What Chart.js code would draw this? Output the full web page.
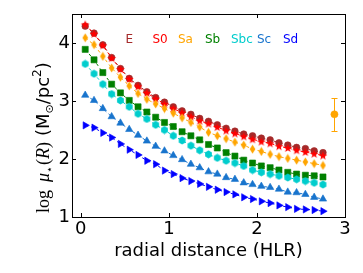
<!DOCTYPE html>
<html><head><meta charset="utf-8">
<script src="https://cdn.jsdelivr.net/npm/chart.js@4"></script>
<style>html,body{margin:0;padding:0;background:#fff;overflow:hidden}</style>
</head><body>
<canvas id="c" width="363" height="273" style="width:363px;height:273px;display:block"></canvas>
<script>
// ---- data ----
const radius = [0.05,0.15,0.25,0.35,0.45,0.55,0.65,0.75,0.85,0.95,1.05,1.15,1.25,1.35,1.45,1.55,1.65,1.75,1.85,1.95,2.05,2.15,2.25,2.35,2.45,2.55,2.65,2.75];
const valE   = [4.29,4.17,3.97,3.75,3.56,3.39,3.27,3.16,3.06,2.98,2.90,2.83,2.77,2.70,2.65,2.59,2.53,2.48,2.43,2.40,2.36,2.33,2.28,2.24,2.20,2.18,2.14,2.11];
const valS0  = [4.32,4.16,3.96,3.74,3.55,3.38,3.25,3.14,3.04,2.95,2.87,2.80,2.73,2.66,2.61,2.55,2.49,2.44,2.39,2.34,2.30,2.27,2.22,2.19,2.15,2.12,2.09,2.06];
const valSa  = [4.09,3.97,3.77,3.57,3.41,3.26,3.13,3.03,2.95,2.87,2.79,2.71,2.63,2.55,2.46,2.40,2.35,2.29,2.24,2.17,2.13,2.08,2.04,2.01,1.98,1.95,1.92,1.89];
const valSb  = [3.89,3.71,3.49,3.29,3.14,3.01,2.90,2.81,2.72,2.63,2.56,2.47,2.40,2.33,2.25,2.19,2.11,2.05,1.98,1.93,1.88,1.85,1.81,1.77,1.74,1.72,1.71,1.69];
const valSbc = [3.64,3.47,3.29,3.12,3.01,2.90,2.78,2.69,2.59,2.50,2.40,2.32,2.23,2.15,2.08,2.02,1.97,1.93,1.88,1.81,1.77,1.74,1.71,1.68,1.65,1.62,1.59,1.56];
const valSc  = [3.10,3.01,2.87,2.73,2.62,2.51,2.41,2.31,2.22,2.14,2.06,1.99,1.91,1.85,1.78,1.74,1.68,1.65,1.59,1.56,1.53,1.51,1.48,1.43,1.42,1.39,1.34,1.31];
const valSd  = [2.58,2.54,2.45,2.37,2.26,2.16,2.07,1.97,1.91,1.80,1.74,1.67,1.62,1.57,1.52,1.47,1.43,1.39,1.34,1.31,1.27,1.24,1.20,1.17,1.14,1.13,1.12,1.10];
const errX = [2.88];
const errY = [2.77];
const errLow = [2.48];
const errHigh = [3.05];
const xTickVals = [0,1,2,3];
const yTickVals = [1,2,3,4];
const labels = ['E','S0','Sa','Sb','Sbc','Sc','Sd'];

// ---- marker images ----
function mk(w,h,draw){const c=document.createElement('canvas');c.width=w;c.height=h;const g=c.getContext('2d');draw(g,w,h);return c;}
const starImg = mk(10,10,(g)=>{g.fillStyle='#ff0000';g.beginPath();for(let i=0;i<10;i++){const a=-Math.PI/2+i*Math.PI/5;const r=i%2?1.9:4.6;g.lineTo(5+r*Math.cos(a),5.3+r*Math.sin(a));}g.closePath();g.fill();});
const diamImg = mk(7,10,(g)=>{g.fillStyle='#ffa500';g.beginPath();g.moveTo(3.5,0.5);g.lineTo(6.3,5);g.lineTo(3.5,9.5);g.lineTo(0.7,5);g.closePath();g.fill();});
const hexImg = mk(9,9,(g)=>{g.fillStyle='#00cdcd';g.beginPath();for(let i=0;i<6;i++){const a=-Math.PI/2+i*Math.PI/3;g.lineTo(4.5+3.9*Math.cos(a),4.5+3.9*Math.sin(a));}g.closePath();g.fill();});

const series = [
  {label:'E',   vals:valE,   color:'#a52a2a', style:'circle',   r:3.3, rot:0},
  {label:'S0',  vals:valS0,  color:'#ff0000', style:starImg,    r:4,   rot:0},
  {label:'Sa',  vals:valSa,  color:'#ffa500', style:diamImg,    r:4,   rot:0},
  {label:'Sb',  vals:valSb,  color:'#008000', style:'rect',     r:4.3, rot:0},
  {label:'Sbc', vals:valSbc, color:'#00cdcd', style:hexImg,     r:4,   rot:0},
  {label:'Sc',  vals:valSc,  color:'#1874cd', style:'triangle', r:4.2, rot:0},
  {label:'Sd',  vals:valSd,  color:'#0000ff', style:'triangle', r:4.2, rot:90}
];

const datasets = series.map((s,k)=>({
  label:s.label,
  data: radius.map((x,i)=>({x:x,y:s.vals[i]})),
  showLine:true,
  borderColor:s.color,
  borderWidth:1,
  borderDash:[3,3],
  backgroundColor:s.color,
  pointBackgroundColor:s.color,
  pointBorderColor:s.color,
  pointBorderWidth:0.6,
  pointStyle:s.style,
  pointRadius:s.r,
  pointRotation:s.rot,
  order: 7-k
}));
datasets.push({
  label:'err',
  data: errX.map((x,i)=>({x:x,y:errY[i]})),
  showLine:false,
  pointStyle:'circle',
  pointRadius:3.6,
  pointBackgroundColor:'#ffa500',
  pointBorderColor:'#ffa500',
  pointBorderWidth:0.5,
  order:0
});

const legendColors = ['#a52a2a','#ff0000','#ffa500','#008000','#00cdcd','#1874cd','#0000ff'];
const legendX = [125.5,152.5,178,205,231,257,283];

const deco = {
  id:'deco',
  afterDatasetsDraw(chart){
    const ctx=chart.ctx, xs=chart.scales.x, ys=chart.scales.y;
    // error bars
    ctx.save();
    ctx.strokeStyle='#ffa500'; ctx.lineWidth=1;
    errX.forEach((x,i)=>{
      const px=Math.round(xs.getPixelForValue(x))+0.5;
      const lo=ys.getPixelForValue(errLow[i]), hi=ys.getPixelForValue(errHigh[i]);
      ctx.beginPath();
      ctx.moveTo(px,lo);ctx.lineTo(px,hi);
      ctx.moveTo(px-3,Math.round(lo)+0.5);ctx.lineTo(px+3,Math.round(lo)+0.5);
      ctx.moveTo(px-3,Math.round(hi)+0.5);ctx.lineTo(px+3,Math.round(hi)+0.5);
      ctx.stroke();
    });
    ctx.restore();
  },
  afterDraw(chart){
    const ctx=chart.ctx, a=chart.chartArea, xs=chart.scales.x, ys=chart.scales.y;
    ctx.save();
    // frame
    ctx.strokeStyle='#000'; ctx.lineWidth=1;
    ctx.strokeRect(Math.round(a.left)+0.5,Math.round(a.top)+0.5,Math.round(a.right-a.left),Math.round(a.bottom-a.top));
    // inward ticks
    ctx.beginPath();
    xTickVals.forEach(v=>{const p=Math.round(xs.getPixelForValue(v))+0.5;ctx.moveTo(p,a.bottom);ctx.lineTo(p,a.bottom-4);ctx.moveTo(p,a.top);ctx.lineTo(p,a.top+4);});
    yTickVals.forEach(v=>{const p=Math.round(ys.getPixelForValue(v))+0.5;ctx.moveTo(a.left,p);ctx.lineTo(a.left+4,p);ctx.moveTo(a.right,p);ctx.lineTo(a.right-4,p);});
    ctx.stroke();
    // legend labels
    ctx.font='12px "DejaVu Sans"'; ctx.textBaseline='alphabetic'; ctx.textAlign='left';
    labels.forEach((t,i)=>{ctx.fillStyle=legendColors[i];ctx.fillText(t,legendX[i],43);});
    // x title
    ctx.fillStyle='#000'; ctx.font='18px "DejaVu Sans"'; ctx.textAlign='center';
    ctx.fillText('radial distance (HLR)',(a.left+a.right)/2,256);
    // y title
    ctx.translate(49,213); ctx.rotate(-Math.PI/2); ctx.textAlign='left';
    let x=0;
    const seg=(t,font,dy)=>{ctx.font=font;ctx.fillText(t,x,dy||0);x+=ctx.measureText(t).width;};
    seg('log','18px "Liberation Serif"');
    x+=8;
    seg('\u03bc','italic 18px "Liberation Serif"');
    seg('\u22c6','11px "DejaVu Sans"',4);
    x+=1;
    seg('(','18px "Liberation Serif"');
    seg('R','italic 18px "Liberation Serif"');
    seg(')','18px "Liberation Serif"');
    x+=6;
    seg('(M','18px "DejaVu Sans"');
    seg('\u2299','11px "DejaVu Sans"',4);
    seg('/pc','18px "DejaVu Sans"');
    seg('2','12px "DejaVu Sans"',-8);
    seg(')','18px "DejaVu Sans"');
    ctx.restore();
  }
};

new Chart(document.getElementById('c'),{
  type:'scatter',
  data:{datasets:datasets},
  options:{
    responsive:false, animation:false, devicePixelRatio:1,
    layout:{padding:{left:0,right:18,top:14,bottom:0}},
    plugins:{legend:{display:false},tooltip:{enabled:false}},
    scales:{
      x:{type:'linear',min:-0.1,max:3,
        afterFit(s){s.height=56;},
        afterBuildTicks(s){s.ticks=xTickVals.map(v=>({value:v}));},
        grid:{display:false,drawTicks:false},border:{display:false},
        ticks:{color:'#000',padding:2,font:{family:'DejaVu Sans',size:18},maxRotation:0,autoSkip:false}},
      y:{type:'linear',min:1,max:4.5,
        afterFit(s){s.width=72;},
        afterBuildTicks(s){s.ticks=yTickVals.map(v=>({value:v}));},
        grid:{display:false,drawTicks:false},border:{display:false},
        ticks:{color:'#000',padding:2,font:{family:'DejaVu Sans',size:18},autoSkip:false}}
    }
  },
  plugins:[deco]
});
</script>
</body></html>
